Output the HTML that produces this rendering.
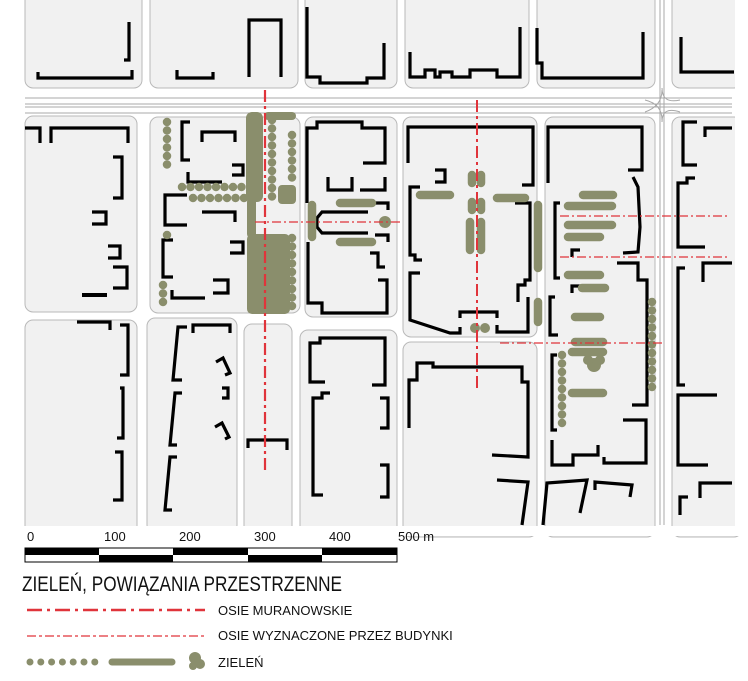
<!DOCTYPE html>
<html><head><meta charset="utf-8"><style>
html,body{margin:0;padding:0;background:#fff;width:748px;height:681px;overflow:hidden}
svg{display:block}
text{font-family:"Liberation Sans",sans-serif;fill:#111}
</style></head><body>
<svg width="748" height="681" viewBox="0 0 748 681" xmlns="http://www.w3.org/2000/svg">
<!-- blocks -->
<g fill="#f1f1f1" stroke="#b9b9b9" stroke-width="1">
<rect x="25" y="-10" width="117" height="98" rx="8"/>
<rect x="150" y="-10" width="148" height="98" rx="8"/>
<rect x="305" y="-10" width="92" height="98" rx="8"/>
<rect x="405" y="-10" width="124" height="98" rx="8"/>
<rect x="537" y="-10" width="118" height="98" rx="8"/>
<rect x="672" y="-10" width="70" height="98" rx="8"/>
<rect x="25" y="116" width="112" height="196" rx="8"/>
<rect x="150" y="117" width="150" height="196" rx="8"/>
<rect x="305" y="117" width="92" height="200" rx="8"/>
<rect x="403" y="117" width="134" height="220" rx="8"/>
<rect x="545" y="117" width="110" height="420" rx="8"/>
<rect x="672" y="117" width="70" height="420" rx="8"/>
<rect x="25" y="320" width="112" height="215" rx="8"/>
<rect x="147" y="318" width="90" height="215" rx="8"/>
<rect x="244" y="324" width="48" height="210" rx="8"/>
<rect x="300" y="330" width="97" height="205" rx="8"/>
<rect x="403" y="342" width="134" height="195" rx="8"/>
</g>
<rect x="735" y="0" width="13" height="530" fill="#fff"/>
<rect x="0" y="526" width="748" height="10" fill="#fff"/>
<!-- main road -->
<g stroke="#a8a8a8" stroke-width="1" fill="none">
<line x1="25" y1="98" x2="732" y2="98"/><line x1="25" y1="113" x2="732" y2="113"/>
<line x1="25" y1="104" x2="732" y2="104"/><line x1="25" y1="107" x2="732" y2="107"/>
<line x1="660" y1="0" x2="660" y2="525"/><line x1="664" y1="0" x2="664" y2="525"/>
<path d="M645 100 Q662 104 662 120 M680 100 Q662 104 662 88 M645 112 Q662 106 662 90 M680 112 Q662 106 662 122"/>
</g>
<!-- buildings -->
<g fill="none" stroke="#000" stroke-width="3.2" stroke-linejoin="miter">
<polyline points="38,72 38,78 132,78 132,70"/><polyline points="129,22 129,60 124,60"/>
<polyline points="177,70 177,78 213,78 213,72"/>
<polyline points="249,77 249,20 281,20 281,77"/>
<polyline points="307,7 307,77 320,77 320,83 367,83 367,78 384,78 384,43"/>
<polyline points="410,52 410,77 425,77 425,70 435,70 435,77 440,77 440,72 452,72 452,77 470,77 470,70 497,70 497,77 520,77 520,27"/>
<polyline points="537,28 537,63 542,63 542,78 643,78 643,32"/>
<polyline points="681,37 681,72 734,72"/>
<polyline points="25,128 40,128 40,143"/><polyline points="51,143 51,128 128,128 128,143"/>
<polyline points="113,157 122,157 122,198 113,198"/>
<polyline points="92,212 106,212 106,224 92,224"/>
<polyline points="108,246 120,246 120,258 108,258"/>
<polyline points="113,267 127,267 127,288 113,288"/>
<line x1="82" y1="295" x2="107" y2="295" stroke-width="4"/>
<polyline points="190,122 182,122 182,160 190,160"/>
<polyline points="202,142 202,132 235,132 235,142"/>
<polyline points="232,165 243,165 243,175 232,175"/>
<polyline points="188,172 188,182 222,182"/>
<polyline points="187,195 165,195 165,225 187,225"/>
<polyline points="202,212 235,212 235,222"/>
<polyline points="230,242 243,242 243,253 230,253"/>
<polyline points="173,240 163,240 163,277 173,277"/>
<polyline points="213,280 228,280 228,293 213,293"/>
<polyline points="172,290 172,298 205,298"/>
<polyline points="307,203 307,128 317,128 317,122 362,122 362,128 385,128 385,163 363,163"/>
<polyline points="328,177 328,190 352,190 352,177"/>
<polyline points="385,177 385,190 360,190"/>
<polyline points="368,212 322,212 317,218 317,227 322,233 368,233"/>
<polyline points="373,203 388,203 388,210"/>
<polyline points="375,235 388,235 388,242"/>
<polyline points="308,242 308,303 322,303 322,313 387,313 387,280 378,280"/>
<polyline points="370,253 378,253 378,267 385,267"/>
<polyline points="408,163 408,127 533,127 533,185 522,185"/>
<polyline points="435,170 445,170 445,182 435,182"/>
<polyline points="420,187 410,187 410,255 415,255 415,260 422,260"/>
<polyline points="515,203 530,203 530,280 525,280 525,285 518,285 518,302"/>
<polyline points="420,273 410,273 410,320 450,333 460,333 460,327"/>
<polyline points="460,318 460,312 497,312 497,318"/>
<polyline points="497,325 497,332 528,332 528,297"/>
<polyline points="548,183 548,127 642,127 642,170 628,170"/>
<polyline points="633,177 638,187 640,227 638,252 623,253"/>
<polyline points="560,203 555,203 555,278 560,278"/>
<polyline points="617,263 638,263 638,280 647,280 647,405 632,405"/>
<polyline points="572,257 572,250 580,250"/>
<polyline points="572,293 572,286 580,286"/>
<polyline points="555,297 550,297 550,335 558,335"/>
<polyline points="557,355 552,355 552,430 557,430"/>
<polyline points="623,420 646,420 646,463 604,463 604,457"/>
<polyline points="552,440 552,465 573,465 573,455 598,455 598,445"/>
<polyline points="543,525 547,483 587,480 580,513"/>
<polyline points="595,490 595,482 632,485 630,497"/>
<polyline points="697,122 683,122 683,165 697,165"/>
<polyline points="705,137 705,128 732,128"/>
<polyline points="695,178 687,178 687,183 678,183 678,247 705,247"/>
<polyline points="703,282 703,263 732,263"/>
<polyline points="685,268 678,268 678,385 685,385"/>
<polyline points="717,395 678,395 678,465 708,465"/>
<polyline points="732,483 700,483 700,498"/>
<polyline points="688,497 680,497 680,515"/>
<polyline points="409,428 409,380 417,380 417,363 433,363 433,367 522,367 522,382 528,382 528,457 492,455"/>
<polyline points="497,480 528,482 522,525"/>
<polyline points="325,382 310,382 310,343 320,343 320,338 385,338 385,385 372,385"/>
<polyline points="330,393 322,393 322,398 313,398 313,495 323,495"/>
<polyline points="380,398 388,398 388,428 380,428"/>
<polyline points="380,465 388,465 388,497 380,497"/>
<polyline points="77,322 110,322 110,330"/>
<polyline points="120,325 128,325 128,375 120,375"/>
<polyline points="120,388 123,388 123,438 117,438"/>
<polyline points="115,452 122,452 122,500 113,500"/>
<polyline points="187,327 178,327 173,380 182,380"/>
<polyline points="193,333 193,325 230,325 230,333"/>
<polyline points="182,393 175,393 170,445 177,445"/>
<polyline points="177,457 170,457 165,510 172,510"/>
<polyline points="216,362 223,358 230,373 225,375"/>
<polyline points="222,388 228,388 228,398 222,398"/>
<polyline points="215,427 222,423 229,437 225,439"/>
<polyline points="248,448 248,440 287,440 287,450"/>
</g>
<!-- green -->
<g fill="#8a8e6c" stroke="none">
<rect x="246" y="112" width="17" height="90" rx="6"/>
<rect x="264" y="112" width="32" height="8" rx="4"/>
<rect x="278" y="185" width="18" height="19" rx="4"/>
<rect x="247" y="198" width="9" height="40" rx="4"/>
<rect x="247" y="234" width="43" height="80" rx="5"/>
<circle cx="385" cy="222" r="6"/>
<circle cx="594" cy="365" r="7"/><circle cx="588" cy="360" r="5"/><circle cx="600" cy="360" r="5"/>
<circle cx="475" cy="328" r="5"/><circle cx="485" cy="328" r="5"/>
</g>
<g stroke="#8a8e6c" stroke-linecap="round" fill="none">
<g stroke-width="8.5" stroke-dasharray="0 8.5">
<line x1="167" y1="122" x2="167" y2="168"/>
<line x1="182" y1="187" x2="245" y2="187"/><line x1="193" y1="198" x2="245" y2="198"/>
<line x1="167" y1="235" x2="167" y2="236"/>
<line x1="163" y1="285" x2="163" y2="308"/>
<line x1="272" y1="120" x2="272" y2="202"/>
<line x1="292" y1="135" x2="292" y2="184"/>
<line x1="292" y1="238" x2="292" y2="307"/>
<line x1="562" y1="355" x2="562" y2="424"/>
<line x1="652" y1="302" x2="652" y2="390"/>
</g>
<g stroke-width="8.5">
<line x1="340" y1="203" x2="372" y2="203"/><line x1="340" y1="242" x2="372" y2="242"/>
<line x1="312" y1="205" x2="312" y2="237"/>
<line x1="420" y1="195" x2="450" y2="195"/><line x1="497" y1="198" x2="525" y2="198"/>
<line x1="472" y1="175" x2="472" y2="183"/><line x1="481" y1="175" x2="481" y2="183"/>
<line x1="472" y1="202" x2="472" y2="210"/><line x1="481" y1="202" x2="481" y2="210"/>
<line x1="470" y1="222" x2="470" y2="250"/><line x1="481" y1="222" x2="481" y2="250"/>
<line x1="538" y1="205" x2="538" y2="268"/><line x1="538" y1="302" x2="538" y2="322"/>
<line x1="583" y1="195" x2="613" y2="195"/>
<line x1="568" y1="206" x2="612" y2="206"/><line x1="568" y1="225" x2="612" y2="225"/>
<line x1="568" y1="237" x2="600" y2="237"/><line x1="568" y1="275" x2="600" y2="275"/>
<line x1="582" y1="288" x2="605" y2="288"/><line x1="575" y1="317" x2="600" y2="317"/>
<line x1="575" y1="342" x2="603" y2="342"/><line x1="572" y1="352" x2="603" y2="352"/>
<line x1="572" y1="393" x2="603" y2="393"/>
</g>
</g>
<!-- axes -->
<g stroke="#e0343b" fill="none">
<line x1="265" y1="90" x2="265" y2="470" stroke-width="2.2" stroke-dasharray="12 4 3 4"/>
<line x1="477" y1="100" x2="477" y2="390" stroke-width="2" stroke-dasharray="12 4 3 4"/>
<g stroke-width="1.2" stroke-dasharray="9 3 2 3">
<line x1="255" y1="222" x2="400" y2="222"/>
<line x1="560" y1="216" x2="730" y2="216"/>
<line x1="560" y1="257" x2="730" y2="257"/>
<line x1="500" y1="343" x2="665" y2="343"/>
</g>
</g>
<!-- scale bar -->
<rect x="25" y="548" width="372" height="14" fill="#fff" stroke="#000" stroke-width="1"/>
<g fill="#000">
<rect x="25" y="548" width="74" height="7"/><rect x="173" y="548" width="75" height="7"/><rect x="322" y="548" width="75" height="7"/>
<rect x="99" y="555" width="74" height="7"/><rect x="248" y="555" width="74" height="7"/>
</g>
<g font-size="13">
<text x="27" y="541">0</text><text x="104" y="541">100</text><text x="179" y="541">200</text>
<text x="254" y="541">300</text><text x="329" y="541">400</text><text x="398" y="541">500 m</text>
</g>
<text x="22" y="591" font-size="21" textLength="320" lengthAdjust="spacingAndGlyphs">ZIELEŃ, POWIĄZANIA PRZESTRZENNE</text>
<line x1="27" y1="610" x2="205" y2="610" stroke="#e0343b" stroke-width="2.5" stroke-dasharray="15 5 3 5"/>
<line x1="27" y1="636" x2="205" y2="636" stroke="#e0343b" stroke-width="1.3" stroke-dasharray="9 3 3 3"/>
<text x="218" y="615" font-size="13">OSIE MURANOWSKIE</text>
<text x="218" y="640" font-size="13">OSIE WYZNACZONE PRZEZ BUDYNKI</text>
<g stroke="#8a8e6c" stroke-linecap="round">
<line x1="30" y1="662" x2="95" y2="662" stroke-width="7" stroke-dasharray="0 10.8"/>
<line x1="112" y1="662" x2="172" y2="662" stroke-width="7"/>
</g>
<g fill="#8a8e6c"><circle cx="195" cy="658" r="6"/><circle cx="200" cy="664" r="5"/><circle cx="193" cy="666" r="4"/></g>
<text x="218" y="667" font-size="13">ZIELEŃ</text>
</svg>
</body></html>
